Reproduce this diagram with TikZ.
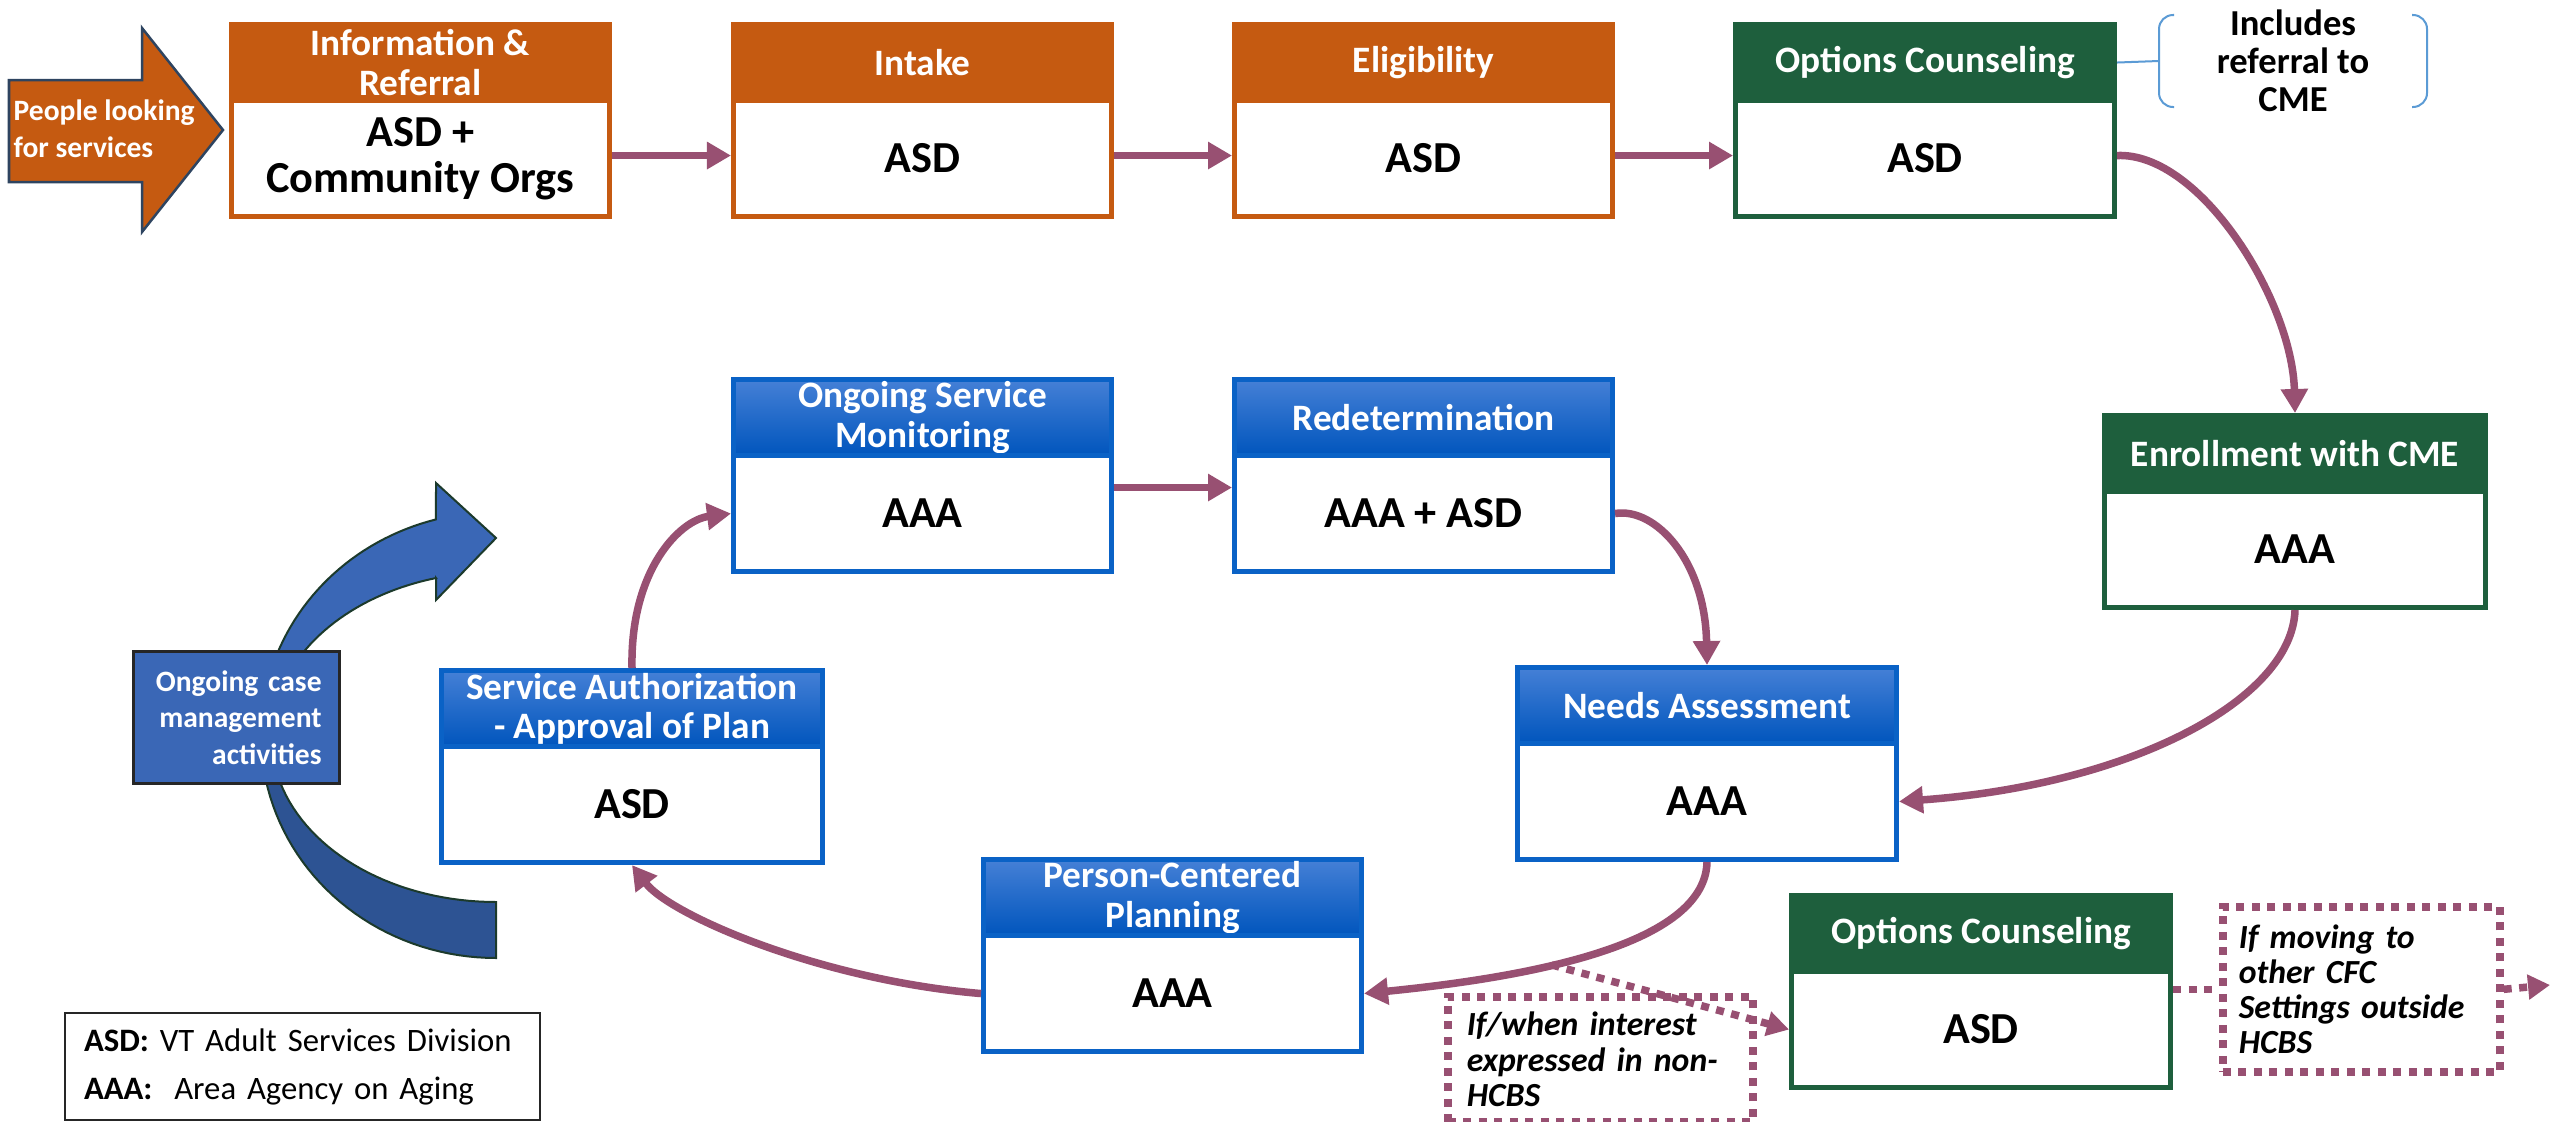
\documentclass[tikz,border=0pt]{standalone}
\usepackage{fontspec}
\setmainfont{Carlito}
\usetikzlibrary{arrows.meta}
\definecolor{orng}{HTML}{C55A11}
\definecolor{grn}{HTML}{1E5F3D}
\definecolor{bluebord}{HTML}{0A62C6}
\definecolor{blueTop}{HTML}{4580D6}
\definecolor{blueBot}{HTML}{0055BD}
\definecolor{mauve}{HTML}{985072}
\definecolor{bracketblue}{HTML}{5B9BD5}
\definecolor{arrowLight}{HTML}{3A67B6}
\definecolor{arrowDark}{HTML}{2D5393}
\definecolor{arrowEdge}{HTML}{1C3A2C}
\definecolor{peopleEdge}{HTML}{2E4460}
\newcommand\flowbox[8]{%
  \node[hdr,#5,minimum width=#4*0.01cm,anchor=north west] (#1-h) at (#2,#3) {#7};
  \node[bdy,draw=#6,minimum width=#4*0.01cm,anchor=north west] (#1) at (#2,#3+76) {#8};
}
\tikzset{
  hdr/.style={inner sep=0pt, text=white, align=center, font=\bfseries\fontsize{10.6}{11.2}\selectfont, line width=0.05cm, minimum height=0.76cm},
  bdy/.style={inner sep=0pt, fill=white, align=center, font=\bfseries\fontsize{12.6}{13}\selectfont, line width=0.05cm, minimum height=1.16cm},
  orangehdr/.style={draw=orng, fill=orng},
  greenhdr/.style={draw=grn, fill=grn},
  bluehdr/.style={draw=bluebord, top color=blueTop, bottom color=blueBot},
  conn/.style={draw=mauve, line width=0.075cm, -{Triangle[length=0.24cm,width=0.26cm]}},
  dotline/.style={draw=mauve, line width=0.075cm, dash pattern=on 0.08cm off 0.075cm},
  dotconn/.style={dotline, -{Triangle[length=0.22cm,width=0.24cm]}},
  dotbox/.style={dotline, align=left, inner ysep=0pt, font=\bfseries\itshape\fontsize{9.6}{10}\selectfont},
}
\begin{document}
\begin{tikzpicture}[x=0.01cm, y=-0.01cm]
\useasboundingbox (0,0) rectangle (2552,1121);
\fill[white] (0,0) rectangle (2552,1121);

% people arrow
\draw[fill=orng, draw=peopleEdge, line width=0.025cm] (9,80) -- (142,80) -- (142,28) -- (223,130) -- (142,232) -- (142,182) -- (9,182) -- cycle;
\node[anchor=west, align=left, text=white, font=\bfseries\fontsize{8.4}{10.5}\selectfont, inner sep=0pt] (people) at (13,129) {People looking\\for services};

% curved case-management arrow
\fill[arrowDark, draw=arrowEdge, line width=0.02cm]
  plot[domain=180:90, samples=40] ({496+235*cos(\x)}, {735+223*sin(\x)})
  -- plot[domain=90:180, samples=40] ({496+224.5*cos(\x)}, {737+165*sin(\x)}) -- cycle;
\fill[arrowLight, draw=arrowEdge, line width=0.02cm]
  (496,538) -- (436,600) -- (436,578)
  -- plot[domain=254.5:180, samples=40] ({496+224.5*cos(\x)}, {737+165*sin(\x)})
  -- plot[domain=180:255.2, samples=40] ({496+235*cos(\x)}, {735+223*sin(\x)})
  -- (436,483) -- cycle;
\node[draw=black!85, line width=0.03cm, fill=arrowLight, anchor=north west, minimum width=2.06cm, minimum height=1.32cm, inner xsep=0.18cm, text width=1.7cm, align=right, text=white, font=\bfseries\fontsize{8.4}{10.3}\selectfont] (ong) at (132,650) {Ongoing case\\management\\activities};

% process boxes
\flowbox{ir}{229}{22}{378}{orangehdr}{orng}{Information \&\\Referral}{ASD +\\Community Orgs}
\flowbox{intake}{731}{22}{378}{orangehdr}{orng}{Intake}{ASD}
\flowbox{elig}{1232}{22}{378}{orangehdr}{orng}{Eligibility}{ASD}
\flowbox{oct}{1733}{22}{379}{greenhdr}{grn}{Options Counseling}{ASD}
\flowbox{enr}{2102}{413}{381}{greenhdr}{grn}{Enrollment with CME}{AAA}
\flowbox{osm}{731}{377}{378}{bluehdr}{bluebord}{Ongoing Service\\Monitoring}{AAA}
\flowbox{red}{1232}{377}{378}{bluehdr}{bluebord}{Redetermination}{AAA + ASD}
\flowbox{na}{1515}{665}{379}{bluehdr}{bluebord}{Needs Assessment}{AAA}
\flowbox{sa}{439}{668}{381}{bluehdr}{bluebord}{Service Authorization\\- Approval of Plan}{ASD}
\flowbox{pcp}{981}{857}{378}{bluehdr}{bluebord}{Person-Centered\\Planning}{AAA}
\flowbox{ocl}{1789}{893}{379}{greenhdr}{grn}{Options Counseling}{ASD}

% bracket note
\node[font=\bfseries\fontsize{10.4}{10.8}\selectfont, align=center, inner sep=0pt] (incl) at (2293,61) {Includes\\referral to\\CME};
\draw[bracketblue, line width=0.02cm, rounded corners=0.14cm] (2174,15) -- (2159,15) -- (2159,107) -- (2174,107);
\draw[bracketblue, line width=0.02cm, rounded corners=0.14cm] (2412,15) -- (2427,15) -- (2427,107) -- (2412,107);
\coordinate (brkpt) at (2159,61);
\draw[bracketblue, line width=0.02cm] (oct-h.east) -- (brkpt);

% dotted condition boxes
\node[dotbox, anchor=north west, text width=2.67cm, inner xsep=0.19cm, minimum height=1.25cm] (cond1) at (1444,993) {If/when interest\\expressed in non-\\HCBS};
\node[dotbox, anchor=north west, text width=2.45cm, inner xsep=0.16cm, minimum height=1.65cm] (cond2) at (2219,903) {If moving to\\other CFC\\Settings outside\\HCBS};

% legend
\node[draw=black!85, line width=0.02cm, anchor=north west, minimum width=4.75cm, minimum height=1.07cm, inner xsep=0.19cm, text width=4.37cm, align=left, font=\fontsize{9.3}{13.7}\selectfont] (legend) at (64,1012) {\textbf{ASD:} VT Adult Services Division\\\textbf{AAA:}\ \ Area Agency on Aging};

% connectors
\draw[conn] ([yshift=0.03cm]ir.east) -- ([yshift=0.03cm]intake.west);
\draw[conn] ([yshift=0.03cm]intake.east) -- ([yshift=0.03cm]elig.west);
\draw[conn] ([yshift=0.03cm]elig.east) -- ([yshift=0.03cm]oct.west);
\draw[conn] ([yshift=0.03cm]oct.east) .. controls (2200,152) and (2292,300) .. (enr-h.north);
\draw[conn] (enr.south) .. controls (2292,700) and (2130,785) .. (na.east);
\draw[conn] ([yshift=0.26cm]osm.east) -- ([yshift=0.26cm]red.west);
\draw[conn] (red.east) .. controls (1655,507) and (1705,560) .. (na-h.north);
\draw[conn] (na.south) .. controls (1705,940) and (1550,975) .. (pcp.east) coordinate[pos=0.63] (br);
\draw[conn] (pcp.west) .. controls (820,980) and (670,915) .. (sa.south);
\draw[conn] (sa-h.north) .. controls (630,570) and (680,520) .. (osm.west);
\draw[dotconn] (br) -- (ocl.west);
\draw[dotline] (cond2.west -| ocl.east) -- (cond2.west);
\coordinate (exitpt) at (2550,985);
\draw[dotconn] (cond2.east) -- (exitpt);
\end{tikzpicture}
\end{document}
